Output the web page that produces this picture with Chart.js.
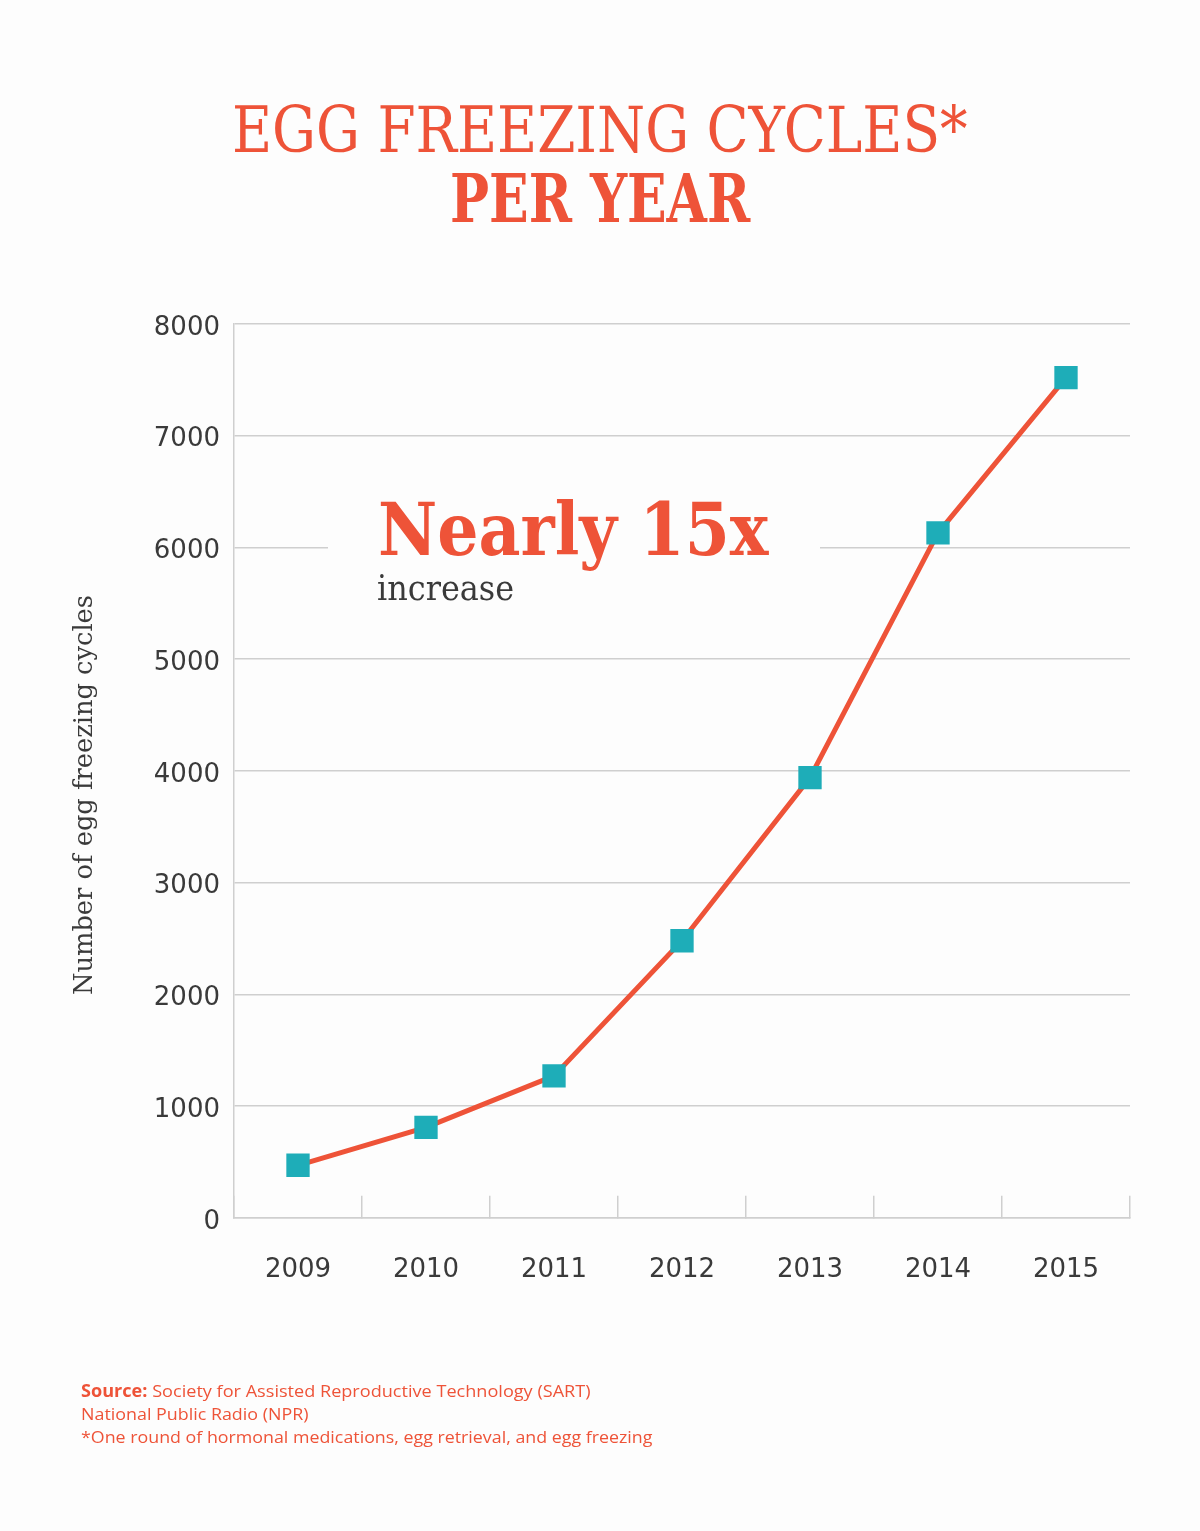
<!DOCTYPE html>
<html><head><meta charset="utf-8">
<script src="https://cdn.jsdelivr.net/npm/chart.js@4.4.1/dist/chart.umd.min.js"></script>
<style>
html,body{margin:0;padding:0;background:#fdfdfd;}
body{width:1200px;height:1531px;position:relative;overflow:hidden;}
#c{position:absolute;left:0;top:0;}
.t{position:absolute;white-space:nowrap;transform-origin:0 0;line-height:1;}
.serif{font-family:"DejaVu Serif Condensed","DejaVu Serif",serif;}
#t1{left:232px;top:98px;font-size:64px;color:#ee5338;font-weight:normal;}
#t2{left:450px;top:165px;font-size:67px;color:#ee5338;font-weight:bold;}
#mask{position:absolute;left:328px;top:530px;width:492px;height:36px;background:#fdfdfd;}
#a1{left:378px;top:493px;font-size:73px;color:#ee5338;font-weight:bold;}
#a2{left:377px;top:570px;font-size:36px;color:#3a3a3a;}
#yt{left:70px;top:995px;font-size:26px;color:#3a3a3a;}
.f{position:absolute;left:81px;font-family:"Open Sans",Lato,sans-serif;font-size:17px;line-height:22px;color:#ee5338;white-space:nowrap;transform-origin:0 0;}
.f b{font-weight:bold;}
</style></head>
<body>
<canvas id="c" width="1200" height="1531"></canvas>
<div id="t1" class="t serif">EGG FREEZING CYCLES*</div>
<div id="t2" class="t serif">PER YEAR</div>
<div id="mask"></div>
<div id="a1" class="t serif">Nearly 15x</div>
<div id="a2" class="t serif">increase</div>
<div id="yt" class="t serif">Number of egg freezing cycles</div>
<div id="f1" class="f" style="top:1380px"><b>Source:</b> Society for Assisted Reproductive Technology (SART)</div>
<div id="f2" class="f" style="top:1403px">National Public Radio (NPR)</div>
<div id="f3" class="f" style="top:1426px">*One round of hormonal medications, egg retrieval, and egg freezing</div>
<script>
const years = ['2009', '2010', '2011', '2012', '2013', '2014', '2015'];
const cycles = [470, 810, 1270, 2480, 3940, 6130, 7520];
const yMin = 0;
const yMax = 8000;
const yStep = 1000;

const RED = '#ee5338';
const TEAL = '#1eadb8';
const GRID = '#cfcfcf';
const TXT = '#3a3a3a';

function fit(id, w, rot) {
  const el = document.getElementById(id);
  const s = w / el.offsetWidth;
  el.style.transform = (rot ? 'rotate(-90deg) ' : '') + 'scaleX(' + s + ')';
}
fit('t1', 736);
fit('t2', 300);
fit('a1', 390);
fit('a2', 137);
fit('yt', 400, true);
fit('f1', 510);
fit('f2', 227);
fit('f3', 571);

const tickFont = {family: '"DejaVu Sans", sans-serif', size: 26};

new Chart(document.getElementById('c').getContext('2d'), {
  type: 'line',
  data: {
    labels: years,
    datasets: [{
      data: cycles,
      borderColor: RED,
      borderWidth: 5,
      tension: 0,
      pointStyle: 'rect',
      pointRadius: 16.5,
      pointHoverRadius: 16.5,
      pointBackgroundColor: TEAL,
      pointBorderColor: TEAL,
      pointBorderWidth: 0
    }]
  },
  options: {
    responsive: false,
    animation: false,
    events: [],
    layout: {padding: {left: 0, top: 324, right: 70, bottom: 186}},
    plugins: {legend: {display: false}, tooltip: {enabled: false}},
    scales: {
      x: {
        offset: true,
        grid: {display: true, offset: true, drawOnChartArea: false, drawTicks: true, tickLength: -22, color: GRID, lineWidth: 1.5},
        border: {display: true, color: GRID, width: 1.5},
        ticks: {padding: 59, color: TXT, font: tickFont, maxRotation: 0}
      },
      y: {
        min: yMin, max: yMax,
        afterFit(s) { s.width = 234; },
        ticks: {stepSize: yStep, padding: 14, labelOffset: 4, color: TXT, font: tickFont, callback: v => String(v)},
        grid: {color: GRID, lineWidth: 1.5, drawTicks: false},
        border: {display: true, color: GRID, width: 1.5}
      }
    }
  }
});
</script>
</body></html>
